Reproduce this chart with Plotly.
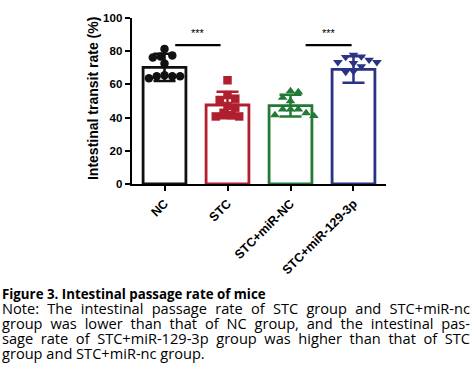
import json
import plotly.graph_objects as go

# ---------------- data ----------------
categories = ["NC", "STC", "STC+miR-NC", "STC+miR-129-3p"]
nc_values = [81.4, 77.4, 76.8, 76.2, 72.6, 65.5, 64.9, 64.9, 64.9, 63.7]
stc_values = [62.5, 53.6, 51.4, 50.6, 47.0, 46.0, 42.9, 41.5, 40.7, 40.7]
mirnc_values = [56.0, 55.4, 52.0, 50.0, 45.0, 45.0, 45.0, 42.7, 41.5, 41.0]
mir129_values = [77.8, 76.8, 76.5, 74.8, 73.4, 73.4, 72.8, 70.8, 67.9, 67.5]
bar_means = [70.3, 47.6, 47.2, 69.0]
bar_sds = [8.2, 8.0, 6.5, 8.0]
y_ticks = [0, 20, 40, 60, 80, 100]
sig_pairs = [(0.17, 0.89, "***"), (2.24, 2.97, "***")]
sig_level = 83.6
caption_title = "Figure 3. Intestinal passage rate of mice"
caption_lines = [
    "Note: The intestinal passage rate of STC group and STC+miR-nc",
    "group was lower than that of NC group, and the intestinal pas-",
    "sage rate of STC+miR-129-3p group was higher than that of STC",
    "group and STC+miR-nc group.",
]

groups = [nc_values, stc_values, mirnc_values, mir129_values]
colors = ["#111111", "#b01f2e", "#237a36", "#2b3384"]
symbols = ["circle", "square", "triangle-up", "triangle-down"]

# ---------------- layout geometry (pixels) ----------------
W, H = 472, 392
L, R, T, B = 132, 386, 16, 184
xr = [-0.516, 3.516]
px_per_cat = (R - L) / (xr[1] - xr[0])
px_per_unit = (B - T) / 100.0


def beeswarm(vals, d=7.8):
    """Horizontal offsets (category units) so markers do not overlap."""
    placed = []
    offs = []
    for v in vals:
        yv = v * px_per_unit
        cands = [0]
        for i in range(1, 12):
            cands += [i * d / 2, -i * d / 2]
        for c in cands:
            if all(((px - c) ** 2 + (py - yv) ** 2) ** 0.5 >= d for (px, py) in placed):
                break
        placed.append((c, yv))
        offs.append(c / px_per_cat)
    return offs


fig = go.Figure()
for i, cat in enumerate(categories):
    fig.add_trace(go.Bar(
        x=[i], y=[bar_means[i]], width=0.68,
        marker=dict(color="rgba(255,255,255,0)", line=dict(color=colors[i], width=2.8)),
        error_y=dict(type="data", array=[bar_sds[i]], visible=True,
                     color=colors[i], thickness=2.5, width=11),
        showlegend=False, hoverinfo="skip",
    ))
for i, vals in enumerate(groups):
    offs = beeswarm(vals)
    fig.add_trace(go.Scatter(
        x=[i + o for o in offs], y=vals, mode="markers",
        marker=dict(symbol=symbols[i], color=colors[i], size=8.5,
                    line=dict(width=0)),
        showlegend=False, hoverinfo="skip",
    ))

shapes = []
annotations = []
for (x0, x1, txt) in sig_pairs:
    shapes.append(dict(type="line", xref="x", yref="y", x0=x0, x1=x1,
                       y0=sig_level, y1=sig_level,
                       line=dict(color="black", width=2.2)))
    annotations.append(dict(x=(x0 + x1) / 2, y=sig_level + 7.5, xref="x", yref="y",
                            text=txt, showarrow=False,
                            font=dict(family="Liberation Sans, Arial", size=11, color="black")))


def pxx(p):
    return (p - L) / (R - L)


def pxy(p):
    return (B - p) / (B - T)


annotations.append(dict(x=pxx(93), y=pxy(98), xref="paper", yref="paper",
                        text="<b>Intestinal transit rate (%)</b>", textangle=-90,
                        showarrow=False, xanchor="center", yanchor="middle",
                        font=dict(family="Liberation Sans, Arial", size=14, color="black")))

caption_text = ('<span style="font-size:13.3px"><b>' + caption_title + '</b></span><br>'
                + "<br>".join(caption_lines))
annotations.append(dict(x=pxx(0), y=pxy(284), xref="paper", yref="paper",
                        text=caption_text, showarrow=False,
                        xanchor="left", yanchor="top", align="left",
                        font=dict(family="Open Sans", size=14.6, color="black")))

fig.update_layout(
    width=W, height=H, autosize=False,
    margin=dict(l=L, r=W - R, t=T, b=H - B, pad=0),
    paper_bgcolor="white", plot_bgcolor="white",
    barmode="overlay",
    shapes=shapes, annotations=annotations,
    xaxis=dict(range=xr, tickmode="array", tickvals=list(range(4)),
               ticktext=["<b>%s</b>" % c for c in categories], tickangle=-45,
               showline=True, linecolor="black", linewidth=2.4,
               ticks="outside", ticklen=5, tickwidth=2, tickcolor="black",
               showgrid=False, zeroline=False,
               tickfont=dict(family="Liberation Sans, Arial", size=12.5, color="black")),
    yaxis=dict(range=[0, 100], tickmode="array", tickvals=y_ticks,
               ticktext=["<b>%d</b>" % t for t in y_ticks],
               showline=True, linecolor="black", linewidth=2.4,
               ticks="outside", ticklen=5, tickwidth=2, tickcolor="black",
               showgrid=False, zeroline=False,
               tickfont=dict(family="Liberation Sans, Arial", size=11.5, color="black")),
)

# caption: tight 15 px line spacing and justified note lines, as in the reference
caption_js = """
document.body.style.margin = '0';
var gd = document.getElementById('{plot_id}');
function fixCaption() {
  gd.querySelectorAll('text.annotation-text').forEach(function (t) {
    var lines = t.querySelectorAll('tspan.line');
    if (lines.length !== %d) return;
    if (t.getAttribute('data-fixed') === '1') return;
    for (var i = 0; i < lines.length; i++) {
      lines[i].setAttribute('dy', String(i * %g));
    }
    for (var k = 1; k <= %d; k++) {
      var ln = lines[k];
      var w = ln.getComputedTextLength();
      var n = (ln.textContent.match(/ /g) || []).length;
      if (n > 0 && w < %g) {
        ln.style.wordSpacing = ((%g - w) / n) + 'px';
      }
    }
    t.setAttribute('data-fixed', '1');
  });
}
fixCaption();
gd.on('plotly_afterplot', fixCaption);
""" % (len(caption_lines) + 1, 15, 3, 468, 468)

fig.write_html("out.html", post_script=caption_js,
               config={"displayModeBar": False, "staticPlot": True})
